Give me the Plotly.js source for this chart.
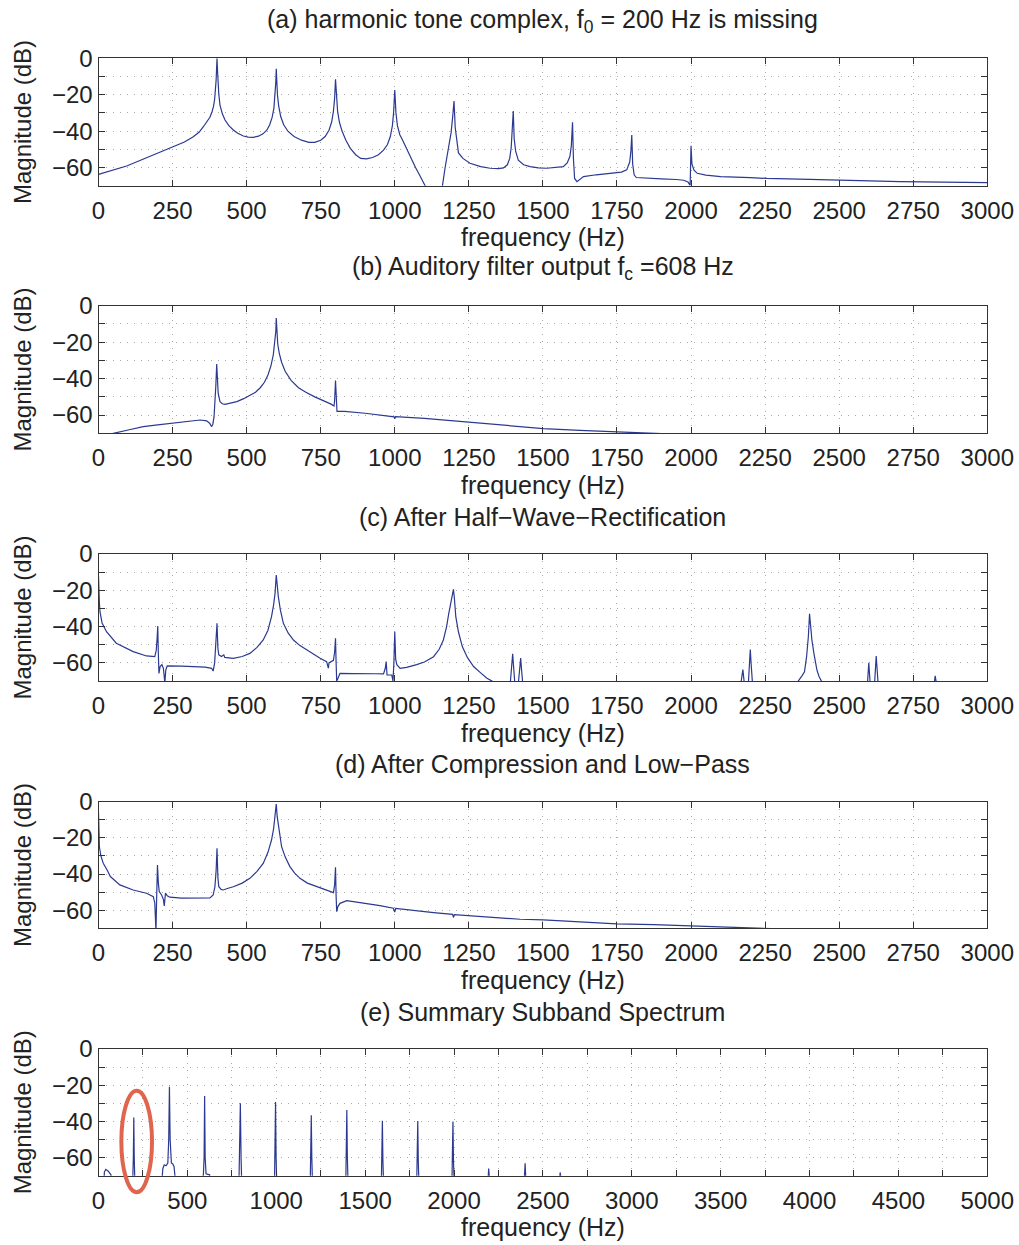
<!DOCTYPE html>
<html>
<head>
<meta charset="utf-8">
<script src="https://cdn.plot.ly/plotly-3.0.1.min.js"></script>
<style>html,body{margin:0;padding:0;background:#fff;}#chart{width:1019px;height:1245px;}</style>
</head>
<body>
<div id="chart"></div>
<script>
// ---------- data ----------
const freqA = [0,50,95,150,185,220,252,290,320,340,354,366,376,383,388,392,395,397,398.5,400,401.5,403.5,406,410,418,427,440,455,470,489,505,523,540,555,568,578,586,592,596,598.5,600,601.5,604,608,615,625,640,660,685,710,730,750,765,778,787,793,797,800,803,807,813,822,835,850,868,885,905,925,945,962,975,985,992,996,1000,1004,1009,1017,1025,1040,1055,1070,1085,1102,1115,1145,1161,1170,1181,1190,1195,1200,1204,1209,1215,1230,1254,1290,1322,1350,1367,1380,1388,1393,1397,1400,1403,1408,1417,1435,1457,1485,1513,1545,1569,1582,1591,1596,1600,1603,1607,1615,1625,1637,1680,1738,1765,1783,1793,1797,1800,1803,1808,1815,1850,1900,1950,1975,1990,1997,2000,2003,2010,2021,2050,2100,2200,2256,2400,2480,2600,2706,2850,3000];
const magA  = [-63.8,-61.5,-59.2,-55.5,-53.1,-50.9,-48.9,-46,-43.1,-40.5,-37.6,-35,-32.4,-29.5,-26.6,-22.5,-17.4,-12,-6,0,-6,-13.7,-19.5,-25.7,-30.5,-33.9,-37,-39.4,-41.2,-42.7,-43.3,-43.4,-42.8,-41.5,-39.5,-36.5,-32.5,-27.5,-21,-13,-5.8,-13,-20,-26,-32,-36.5,-40.2,-43,-45,-46.2,-46.2,-45,-43,-39.5,-35,-29,-22,-11.5,-22,-29,-35,-40,-45,-49.5,-53,-55,-55.3,-54.5,-53,-50.5,-47.5,-43,-37,-30,-17.4,-30,-37,-42,-44.5,-50,-55,-60,-64.5,-70,-74,-76,-70,-60,-50.5,-41,-33,-23.5,-38,-46,-52,-55,-57.7,-59.5,-60.4,-60.6,-60.2,-58.5,-55,-49,-40,-29,-44,-51,-56,-58.5,-59.5,-60.2,-60.4,-60.1,-59.5,-57.5,-54,-48,-35.2,-55,-66,-67.8,-66.5,-65,-64,-63.2,-62.5,-61.3,-57,-51,-42.1,-58,-64,-65.5,-66,-66.3,-66.6,-67,-68,-69.8,-48,-58,-61.5,-63.2,-64.2,-65,-65.6,-66,-66.5,-66.9,-67.3,-67.8,-68,-68.3];

const freqB = [0,30,50,100,151,200,252,300,343,365,375,382,386,390,393,396,399,401,404,410,418,427,445,467,490,512,530,546,560,572,582,590,595,598.5,600,601.5,605,610,618,630,650,675,700,730,760,785,795,797,800,802,805,810,830,900,980,998,1000,1003,1100,1250,1355,1501,1625,1749,1900];
const magB  = [-72,-71,-70,-68.2,-66.3,-65.4,-64.5,-63.5,-62.7,-63.2,-64.5,-66.3,-65,-60.9,-54,-44,-32,-42,-48,-52.6,-53.8,-54.1,-53.6,-52.6,-51,-49,-47.5,-45,-42,-38,-33,-27,-21,-14,-6.8,-14,-21,-26,-31,-36,-41,-45,-47.5,-50,-52,-54,-55,-52,-41,-52,-58,-57.9,-58,-59,-60.5,-61,-62,-60.8,-61.8,-64,-65.5,-67.4,-68.4,-69.2,-70.2];

const freqC = [0,1,3,5,12,27,60,117,162,190,195,198,200,202,204,208,214,219,222,224,227,232,280,320,360,382,387,392,396,400,403,406,415,423,426,455,485,511,535,556,572,584,591,596,600,603,607,614,624,640,658,680,703,725,748,770,774,776,778,793,797,800,802,804,807,815,860,905,935,962,968,971,974,990,994,997,1000,1003,1007,1018,1040,1074,1100,1131,1150,1164,1175,1182,1187,1192,1198,1201,1206,1215,1228,1245,1266,1290,1311,1328,1340,1388,1391,1394,1398,1401,1404,1407,1415,1418,1422,1425,1428,1431,1434,2165,2170,2175,2179,2182,2190,2194,2197,2200,2203,2206,2209,2355,2362,2375,2383,2390,2396,2400,2404,2408,2415,2420,2425,2432,2440,2447,2592,2596,2600,2604,2608,2617,2620,2625,2629,2633,2818,2821,2824,2827,2830,3000];
const magC  = [-12,-22,-27,-31.8,-38,-42.8,-49.2,-53.8,-56.2,-56.6,-53,-46,-39.7,-55,-65.8,-62,-61,-63,-70,-71,-64,-61.7,-61.8,-62,-62.4,-63,-64.5,-60,-50,-38.2,-52,-55.6,-56.5,-55.6,-57,-57.5,-56.5,-54.8,-51.5,-47.4,-42,-34.5,-28,-21.7,-11.6,-18,-23.5,-31,-38.2,-43.5,-47.4,-50.5,-52.9,-55.3,-57.5,-59.3,-61,-63,-60,-58.6,-54,-46.5,-60,-70,-69,-65.8,-65.9,-65.8,-66,-66.1,-63,-59.3,-66.7,-66.7,-70,-60,-42.8,-58,-61,-63,-62.5,-61,-59.5,-56.6,-52.5,-47.4,-40,-33,-28,-23.5,-19.5,-24,-34.5,-43,-51,-57,-62,-65.5,-68.5,-70,-75,-75,-70,-62,-55,-62,-70,-75,-75,-70,-63,-57.4,-64,-70,-75,-75,-70,-63.7,-70,-75,-75,-70,-61,-52.6,-61,-70,-75,-75,-70,-67,-64.9,-56.6,-45.6,-33,-40,-47.4,-55,-60,-64,-67.5,-70,-75,-75,-70,-59.9,-70,-75,-75,-70,-56.2,-70,-75,-75,-70,-67.2,-70,-75,-75];

const freqD = [0,1,3,8,16,30,40,72,117,162,180,185,190,192,194,196,199,202,205,213,219,222,224,226,232,241,280,330,376,387,393,397,400,403,406,414,421,435,455,485,511,535,556,572,584,591,596,600,603,605,612,618,630,646,662,680,705,736,760,782,793,797,800,802,804,808,815,838,870,905,950,995,998,1000,1003,1050,1131,1195,1198,1201,1300,1355,1423,1501,1625,1749,1875,1996,2130,2256,2330];
const magD  = [-6,-15,-24.9,-30,-34,-38,-41.4,-46,-48.8,-50.6,-52,-52.5,-56,-62,-72,-55,-35,-45,-49.7,-51.6,-54,-57.6,-53,-50.6,-52,-52.8,-53.3,-53.4,-53.2,-51.6,-47,-38,-25.8,-42,-47,-48.5,-48.8,-48,-47,-45,-42.4,-38.5,-34.1,-28,-21.2,-15,-8.3,-1.3,-8,-10,-19,-24.9,-30.5,-35.9,-39.5,-42.4,-45,-47,-48.6,-49.7,-50.3,-46,-36.3,-52,-60.8,-58,-56.2,-54.7,-55.5,-56.2,-57.5,-58.9,-60.5,-61,-59,-60,-61.3,-62.3,-64,-62.5,-63.6,-64.4,-65,-65.3,-66.5,-67.5,-68,-68.6,-69.3,-70,-70.5];

const freqE = [0,30,33,41,55,70,75,192,196,198.5,201,205,355,362,370,380,390,395,399,403,410,418,425,430,435,580,590,594,597,600,605,625,632,790,794,798,802,806,990,993,996,999,1003,1191,1194,1197,1200,1204,1391,1394,1397,1400,1404,1591,1594,1597,1600,1604,1790,1793,1796,1799,1803,1988,1991,1994,1997,2001,2190,2193,2195,2198,2201,2394,2397,2400,2403,2406,2592,2595,2597,2600,2603,5000];
const magE  = [-75,-75,-68,-66.5,-67.5,-69.5,-75,-75,-60,-37.8,-60,-75,-75,-66,-64,-64.5,-63,-50,-20.8,-50,-63,-63.5,-65,-68,-75,-75,-69.5,-60,-26,-60,-69,-69.5,-75,-75,-60,-30,-60,-75,-75,-60,-29.3,-60,-75,-75,-60,-36.6,-60,-75,-75,-60,-33.7,-60,-75,-75,-62,-39.6,-62,-75,-75,-62,-39.8,-62,-75,-75,-62,-40.1,-62,-75,-75,-70,-66,-70,-75,-75,-70,-63.2,-70,-75,-75,-70,-68.2,-70,-75,-75];

const xTicks3000 = [0,250,500,750,1000,1250,1500,1750,2000,2250,2500,2750,3000];
const xTickText3000 = ['0','250','500','750','1000','1250','1500','1750','2000','2250','2500','2750','3000'];
const xTicks5000 = [0,500,1000,1500,2000,2500,3000,3500,4000,4500,5000];
const xTickText5000 = ['0','500','1000','1500','2000','2500','3000','3500','4000','4500','5000'];
const yTicks = [0,-20,-40,-60];
const yTickText = ['0','\u221220','\u221240','\u221260'];

const panelTitles = [
  '(a) harmonic tone complex, f<sub>0</sub> = 200 Hz is missing',
  '(b) Auditory filter output f<sub>c</sub> =608 Hz',
  '(c) After Half\u2212Wave\u2212Rectification',
  '(d) After Compression and Low\u2212Pass',
  '(e) Summary Subband Spectrum'
];
const xTitle = 'frequency (Hz)';
const yTitle = 'Magnitude (dB)';

// ---------- layout ----------
const FONT = 'Liberation Sans, Arial, Helvetica, sans-serif';
const W = 1019, H = 1245;
const xDom = [98.5 / W, 987.3 / W];
const boxes = [[58.3,185.7],[305.7,433.3],[554,681],[801.7,928.3],[1049,1175.7]];
const lineColor = '#2b3990';

const series = [[freqA,magA],[freqB,magB],[freqC,magC],[freqD,magD],[freqE,magE]];
const traces = series.map((s,i) => ({
  x: s[0], y: s[1], type: 'scatter', mode: 'lines',
  line: {color: lineColor, width: 1.2},
  xaxis: i ? 'x' + (i+1) : 'x', yaxis: i ? 'y' + (i+1) : 'y',
  showlegend: false, hoverinfo: 'skip'
}));

const layout = {
  width: W, height: H,
  margin: {l: 0, r: 0, t: 0, b: 0},
  paper_bgcolor: '#fff', plot_bgcolor: '#fff',
  font: {family: FONT, color: '#222', size: 24},
  showlegend: false,
  annotations: [], shapes: []
};

boxes.forEach((b, i) => {
  const sfx = i ? String(i+1) : '';
  const isE = i === 4;
  const grid = {gridcolor: '#a8a8a8', gridwidth: 1, griddash: '1px,6px'};
  const common = Object.assign({
    ticks: 'inside', ticklen: 6, tickwidth: 1, tickcolor: '#333',
    showline: true, linecolor: '#333', linewidth: 1, mirror: 'ticks',
    showgrid: true, zeroline: false,
    tickfont: {family: FONT, size: 24, color: '#222'},
    fixedrange: true
  }, grid);
  const xa = Object.assign({}, common, {
    domain: xDom, anchor: 'y' + sfx,
    range: isE ? [0, 5000] : [0, 3000],
    tickmode: 'array',
    tickvals: isE ? xTicks5000 : xTicks3000,
    ticktext: isE ? xTickText5000 : xTickText3000,
    ticklabelstandoff: 3
  });
  if (isE) xa.minor = Object.assign({dtick: 250, ticks: 'inside', ticklen: 6, tickcolor: '#333', showgrid: true}, grid);
  layout['xaxis' + sfx] = xa;
  layout['yaxis' + sfx] = Object.assign({}, common, {
    domain: [1 - b[1] / H, 1 - b[0] / H], anchor: 'x' + sfx,
    range: [-70, 0], tickmode: 'array', tickvals: yTicks, ticktext: yTickText,
    minor: Object.assign({dtick: 10, tick0: 0, ticks: 'inside', ticklen: 6, tickcolor: '#333', showgrid: true}, grid)
  });
  const xr = 'x' + sfx + ' domain', yr = 'y' + sfx + ' domain';
  layout.annotations.push({
    text: panelTitles[i], xref: xr, yref: yr, x: 0.5, y: 1, yshift: 37.5,
    xanchor: 'center', yanchor: 'middle', showarrow: false,
    font: {family: FONT, size: 25, color: '#222'}
  });
  layout.annotations.push({
    text: xTitle, xref: xr, yref: yr, x: 0.5, y: 0, yshift: -51.5,
    xanchor: 'center', yanchor: 'middle', showarrow: false,
    font: {family: FONT, size: 25, color: '#222'}
  });
  layout.annotations.push({
    text: yTitle, xref: 'paper', yref: yr, x: 22 / W, y: 0.5,
    xanchor: 'center', yanchor: 'middle', textangle: -90, showarrow: false,
    font: {family: FONT, size: 24, color: '#222'}
  });
});

// red highlight ellipse around the 200 Hz component in panel (e)
layout.shapes.push({
  type: 'circle', xref: 'x5 domain', yref: 'y5 domain',
  x0: 0.0257, x1: 0.0602, y0: -0.131, y1: 0.671,
  line: {color: '#e0654f', width: 4}, fillcolor: 'rgba(0,0,0,0)', layer: 'above'
});

Plotly.newPlot('chart', traces, layout, {displayModeBar: false, staticPlot: true});
</script>
</body>
</html>
